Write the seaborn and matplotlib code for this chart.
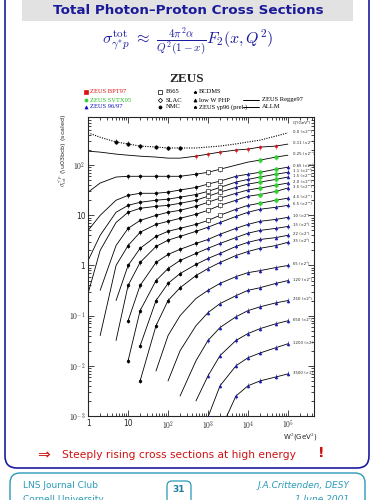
import numpy as np
import pandas as pd
import seaborn as sns
import matplotlib
matplotlib.use("Agg")
import matplotlib.pyplot as plt
from matplotlib.patches import FancyBboxPatch, Rectangle
from matplotlib.lines import Line2D

nan = np.nan
w2_grid = [1, 2, 5, 10, 20, 50, 100, 200, 500, 1e3, 2e3, 5e3, 1e4, 2e4, 5e4, 1e5]

# sigma (mub, scaled) per Q^2 bin, top to bottom
sig_00 = [440, 360, 290, 265, 240, 230, 220, 220, 220, 230, 240, 265, 290, 315, 380, 440]
sig_01 = [190, 182, 166, 158, 151, 145, 138, 138, 151, 166, 182, 200, 209, 229, 240, 263]
sig_02 = [29, 44, 58, 60, 60, 60, 60, 60, 66, 72, 83, 100, 115, 126, 145, 158]
sig_03 = [5.0, 10, 20, 25, 27.5, 27.5, 29, 32, 36, 42, 48, 60, 66, 72, 83, 91]
sig_04 = [1.26, 4.0, 11.5, 15.8, 18.2, 20, 21, 23, 26, 30, 36, 46, 52, 58, 66, 72]
sig_05 = [0.28, 2.0, 7.2, 11.5, 13.8, 15.1, 15.8, 17.4, 20, 24, 29, 36, 42, 46, 52, 58]
sig_06 = [nan, 0.32, 2.5, 5.5, 7.9, 10, 11.5, 12.6, 15.1, 18.2, 22, 27.5, 32, 35, 40, 44]
sig_07 = [nan, 0.04, 1.0, 2.5, 4.6, 6.6, 7.6, 8.7, 10.5, 12.6, 15.8, 20, 24, 26, 30, 35]
sig_08 = [nan, nan, 0.2, 1.0, 2.2, 3.8, 4.8, 5.5, 6.6, 7.9, 10, 13.2, 15.8, 17.4, 20, 22]
sig_09 = [nan, nan, 0.032, 0.4, 1.15, 2.4, 3.2, 3.8, 4.8, 5.8, 7.2, 9.5, 11.5, 13.2, 14.5, 15.8]
sig_10 = [nan, nan, nan, 0.079, 0.4, 1.15, 1.66, 2.1, 2.75, 3.3, 4.2, 5.5, 6.6, 7.6, 8.3, 9.1]
sig_11 = [nan, nan, nan, 0.0126, 0.126, 0.5, 0.87, 1.26, 1.74, 2.2, 2.75, 3.6, 4.4, 5.0, 5.5, 6.0]
sig_12 = [nan, nan, nan, nan, 0.025, 0.2, 0.44, 0.69, 1.05, 1.38, 1.74, 2.4, 2.9, 3.3, 3.6, 4.0]
sig_13 = [nan, nan, nan, nan, 0.005, 0.063, 0.2, 0.36, 0.63, 0.87, 1.15, 1.58, 1.9, 2.2, 2.5, 2.9]
sig_14 = [nan, nan, nan, nan, nan, 0.0079, 0.04, 0.1, 0.22, 0.32, 0.44, 0.6, 0.72, 0.79, 0.91, 1.0]
sig_15 = [nan, nan, nan, nan, nan, nan, 0.005, 0.02, 0.063, 0.115, 0.174, 0.25, 0.32, 0.36, 0.44, 0.5]
sig_16 = [nan, nan, nan, nan, nan, nan, nan, 0.0025, 0.0126, 0.032, 0.058, 0.095, 0.126, 0.15, 0.18, 0.2]
sig_17 = [nan, nan, nan, nan, nan, nan, nan, nan, 0.002, 0.0063, 0.016, 0.032, 0.044, 0.055, 0.069, 0.079]
sig_18 = [nan, nan, nan, nan, nan, nan, nan, nan, nan, 0.00095, 0.004, 0.01, 0.0145, 0.018, 0.023, 0.0275]
sig_19 = [nan, nan, nan, nan, nan, nan, nan, nan, nan, nan, 0.0005, 0.0025, 0.004, 0.005, 0.006, 0.0069]

curves = [sig_00, sig_01, sig_02, sig_03, sig_04, sig_05, sig_06, sig_07, sig_08, sig_09,
          sig_10, sig_11, sig_12, sig_13, sig_14, sig_15, sig_16, sig_17, sig_18, sig_19]

q2_labels = ["0.0 (\u00d72\u00b9\u2079)", "0.11 (\u00d72\u00b9\u2078)", "0.25 (\u00d72\u00b9\u2077)",
             "0.65 (\u00d72\u00b9\u2076)", "1.1 (\u00d72\u00b9\u2075)", "1.5 (\u00d72\u00b9\u2074)",
             "2.0 (\u00d72\u00b9\u00b3)", "3.5 (\u00d72\u00b9\u00b2)", "4.5 (\u00d72\u00b9\u00b9)",
             "6.5 (\u00d72\u00b9\u2070)", "10 (\u00d72\u2079)", "15 (\u00d72\u2078)",
             "22 (\u00d72\u2077)", "35 (\u00d72\u2076)", "65 (\u00d72\u2075)",
             "120 (\u00d72\u2074)", "250 (\u00d72\u00b3)", "650 (\u00d72\u00b2)",
             "1200 (\u00d72)", "3500 (\u00d71)"]

legend_rows = [["ZEUS BPT97", "E665", "BCDMS", ""],
               ["ZEUS SVTX95", "SLAC", "low W PHP", "ZEUS Regge97"],
               ["ZEUS 96/97", "NMC", "ZEUS \u03b3p96 (prel.)", "ALLM"]]

rows = []
for i, c in enumerate(curves):
    for w, s in zip(w2_grid, c):
        if not np.isnan(s):
            rows.append({"W2": w, "sigma": s, "curve": i})
df = pd.DataFrame(rows)


def experiment(i, w):
    if i == 0:
        return "PHP" if 5 <= w <= 200 else None
    if i == 1:
        return "BPT97" if 500 <= w <= 5e4 else None
    if 2 <= i <= 8 and 2e4 <= w <= 5e4:
        return "SVTX95"
    if 2 <= i <= 8 and 1e3 <= w <= 2e3:
        return "E665"
    if 2 <= i <= 13 and 10 <= w <= 500:
        return "NMC"
    if i >= 3 and w >= 1e3:
        return "ZEUS9697"
    return None


df["exp"] = [experiment(i, w) for i, w in zip(df["curve"], df["W2"])]

sns.set_style("ticks")
plt.rcParams["mathtext.fontset"] = "cm"
fig = plt.figure(figsize=(3.75, 5.0), dpi=100)
fig.patch.set_facecolor("white")


def px(x, y):
    return x / 375, 1 - y / 500


# slide frame
fig.patches.append(FancyBboxPatch((0.05, 0.32), 3.64, 4.9, boxstyle="round,pad=0,rounding_size=0.12",
                                  transform=fig.dpi_scale_trans, fill=False, ec="#1c1ca0", lw=1.2))
fig.patches.append(Rectangle((0.22, 4.79), 3.31, 0.22, transform=fig.dpi_scale_trans,
                             fc="#e2e2e2", ec="none"))
fig.patches.append(FancyBboxPatch((0.10, -0.2), 3.55, 0.47, boxstyle="round,pad=0,rounding_size=0.1",
                                  transform=fig.dpi_scale_trans, fc="white", ec="#2a9ab8", lw=1.0))
fig.patches.append(FancyBboxPatch((1.67, -0.05), 0.24, 0.24, boxstyle="round,pad=0,rounding_size=0.05",
                                  transform=fig.dpi_scale_trans, fc="white", ec="#2a9ab8", lw=0.9))

fig.text(*px(188, 10), "Total Photon\u2013Proton Cross Sections", ha="center", va="center",
         fontsize=9.7, fontweight="bold", color="#1a1a9a", family="DejaVu Sans")
fig.text(*px(188, 42), r"$\sigma^{\rm tot}_{\gamma^{*}p}\ \approx\ \frac{4\pi^2\alpha}{Q^2(1-x)}F_2(x,Q^2)$",
         ha="center", va="center", fontsize=11.5, color="#1a1aa0")
fig.text(*px(187, 79), "ZEUS", ha="center", va="center", fontsize=9.5, fontweight="bold",
         family="Liberation Serif")

# legend
col_marker_x = [86, 160, 195, 246]
col_text_x = [90, 166, 199, 262]
row_y = [92, 100, 107]
leg_markers = [[("s", "#e01010", True), ("s", "black", False), ("*", "black", True), None],
               [("o", "#30d030", True), ("D", "black", False), ("^", "black", True), "line"],
               [("^", "#1010c0", True), ("o", "black", True), ("*", "black", True), "line"]]
leg_colors = [["#e01010", "black", "black", "black"],
              ["#20c020", "black", "black", "black"],
              ["#1010c0", "black", "black", "black"]]
for r in range(3):
    for c in range(4):
        if not legend_rows[r][c]:
            continue
        m = leg_markers[r][c]
        xm, ym = px(col_marker_x[c], row_y[r])
        if m == "line":
            fig.lines.append(Line2D([px(243, 0)[0], px(259, 0)[0]], [ym, ym], color="black", lw=0.7,
                                    transform=fig.transFigure))
        elif m is not None:
            fig.lines.append(Line2D([xm], [ym], marker=m[0], ms=2.2, color=m[1],
                                    mfc=m[1] if m[2] else "white", mew=0.5, transform=fig.transFigure))
        fig.text(*px(col_text_x[c], row_y[r]), legend_rows[r][c], ha="left", va="center",
                 fontsize=4.7, color=leg_colors[r][c], family="Liberation Serif")

ax = fig.add_axes([0.235, 0.168, 0.602, 0.598])
ax.set_xscale("log")
ax.set_yscale("log")

top = df[df["curve"] == 0]
rest = df[df["curve"] > 0]
sns.lineplot(data=rest, x="W2", y="sigma", units="curve", estimator=None, color="black",
             lw=0.6, ax=ax, legend=False)
sns.lineplot(data=top, x="W2", y="sigma", color="black", lw=0.8, ls=(0, (1, 1.2)), ax=ax,
             legend=False)

pts = df.dropna(subset=["exp"])
styles = {"PHP": ("o", "black", "black", 6),
          "BPT97": ("s", "#e01010", "#e01010", 4),
          "SVTX95": ("o", "#30d030", "#30d030", 7),
          "E665": ("s", "white", "black", 5),
          "NMC": ("o", "black", "black", 4),
          "ZEUS9697": ("^", "#1a1ab0", "#1a1ab0", 4)}
for name, (mk, fc, ec, sz) in styles.items():
    sub = pts[pts["exp"] == name]
    sns.scatterplot(data=sub, x="W2", y="sigma", marker=mk, s=sz, color=fc, edgecolor=ec,
                    linewidth=0.4, ax=ax, legend=False, zorder=3)
    ax.vlines(sub["W2"], sub["sigma"] / 1.12, sub["sigma"] * 1.12, color=ec, lw=0.4, zorder=2)

last_w = [c[-1] for c in curves]
for lab, s in zip(q2_labels, last_w):
    ax.text(1.35e5, s * 1.05, lab, fontsize=2.8, ha="left", va="center", family="DejaVu Sans")
ax.text(1.35e5, 700, "Q\u00b2(GeV\u00b2)", fontsize=3, ha="left", va="center")

ax.set_xlim(1, 4.47e5)
ax.set_ylim(1e-3, 912)
ax.set_xticks([1, 10, 100, 1e3, 1e4, 1e5])
ax.set_xticklabels(["1", "10", "$10^{2}$", "$10^{3}$", "$10^{4}$", "$10^{5}$"])
ax.set_yticks([1e-3, 1e-2, 1e-1, 1, 10, 100])
ax.set_yticklabels(["$10^{-3}$", "$10^{-2}$", "$10^{-1}$", "1", "10", "$10^{2}$"])
ax.tick_params(which="both", direction="in", top=True, right=True, labelsize=5.5, width=0.6)
ax.tick_params(which="major", length=4, pad=2)
ax.tick_params(which="minor", length=2)
for sp in ax.spines.values():
    sp.set_linewidth(0.8)
ax.set_xlabel("")
ax.set_ylabel("")

fig.text(*px(63, 150), r"$\sigma_{\rm tot}^{\gamma^{*}p}$ (\u03bcb) (scaled)", rotation=90,
         ha="center", va="center", fontsize=4.6)
fig.text(*px(300, 437), "W$^2$(GeV$^2$)", ha="center", va="center", fontsize=5.0)

fig.text(*px(37, 455), "\u21d2", ha="left", va="center", fontsize=11, color="#d01010")
fig.text(*px(62, 455), "Steeply rising cross sections at high energy", ha="left", va="center",
         fontsize=7.7, color="#d01010", family="DejaVu Sans")
fig.text(*px(318, 453), "!", ha="left", va="center", fontsize=10, color="#d01010",
         fontweight="bold")

fig.text(*px(23, 485), "LNS Journal Club", ha="left", va="center", fontsize=6.5, color="#2a9ab8")
fig.text(*px(23, 499), "Cornell University", ha="left", va="center", fontsize=6.5, color="#2a9ab8")
fig.text(*px(349, 485), "J.A.Crittenden, DESY", ha="right", va="center", fontsize=6.5,
         color="#2a9ab8", style="italic")
fig.text(*px(349, 499), "1 June 2001", ha="right", va="center", fontsize=6.5, color="#2a9ab8",
         style="italic")
fig.text(*px(179, 490), "31", ha="center", va="center", fontsize=6.5, color="#1f7f9f",
         fontweight="bold")

fig.savefig("out.png", dpi=100)
